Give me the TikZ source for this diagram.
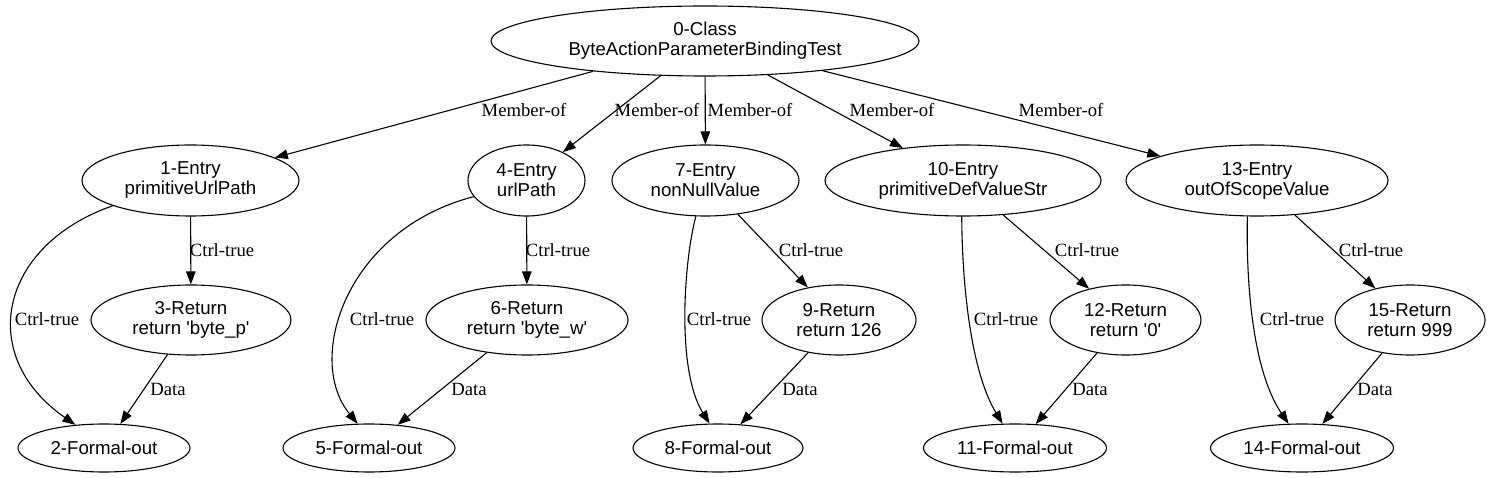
\documentclass[tikz,border=0pt]{standalone}
\usepackage{fontspec}
\usetikzlibrary{shapes.geometric,arrows.meta}
\newfontfamily\arialf{Liberation Sans}
\newfontfamily\timesf{Liberation Serif}
\newcommand\ndfont{\arialf\fontsize{18.67}{20}\selectfont}
\newcommand\lbfont{\timesf\fontsize{18.67}{20}\selectfont}
\begin{document}
\begin{tikzpicture}[x=1pt,y=-1pt,
  nd/.style={draw, ellipse, line width=1.1pt, inner sep=0pt, font=\ndfont, align=center},
  ed/.style={line width=1.1pt, -{Triangle[length=13pt,width=9.5pt]}},
  lbl/.style={font=\lbfont, inner sep=0pt}]
\useasboundingbox[fill=white] (0,0) rectangle (1494,478);
% nodes
\node[nd, minimum width=428pt, minimum height=70pt] (n0) at (705,41) {0-Class\\ByteActionParameterBindingTest};
\node[nd, minimum width=217pt, minimum height=71pt] (n1) at (190.5,180.5) {1-Entry\\primitiveUrlPath};
\node[nd, minimum width=117pt, minimum height=71pt] (n4) at (526.5,180.5) {4-Entry\\urlPath};
\node[nd, minimum width=187pt, minimum height=71pt] (n7) at (705.5,180.5) {7-Entry\\nonNullValue};
\node[nd, minimum width=276pt, minimum height=71pt] (n10) at (963,180.5) {10-Entry\\primitiveDefValueStr};
\node[nd, minimum width=262pt, minimum height=71pt] (n13) at (1257,180.5) {13-Entry\\outOfScopeValue};
\node[nd, minimum width=200pt, minimum height=70pt] (n3) at (191,320) {3-Return\\return 'byte\_p'};
\node[nd, minimum width=202pt, minimum height=70pt] (n6) at (527,320) {6-Return\\return 'byte\_w'};
\node[nd, minimum width=154pt, minimum height=70pt] (n9) at (839,320) {9-Return\\return 126};
\node[nd, minimum width=151pt, minimum height=70pt] (n12) at (1125.5,320) {12-Return\\return '0'};
\node[nd, minimum width=150pt, minimum height=70pt] (n15) at (1410,320) {15-Return\\return 999};
\node[nd, minimum width=172pt, minimum height=48pt] (n2) at (104,448) {2-Formal-out};
\node[nd, minimum width=172pt, minimum height=48pt] (n5) at (369,448) {5-Formal-out};
\node[nd, minimum width=170pt, minimum height=48pt] (n8) at (718,448) {8-Formal-out};
\node[nd, minimum width=183pt, minimum height=48pt] (n11) at (1015,448) {11-Formal-out};
\node[nd, minimum width=183pt, minimum height=48pt] (n14) at (1302,448) {14-Formal-out};
% member-of edges
\draw[ed] (n0) -- (n1) node[lbl] at (524,110) {Member-of};
\draw[ed] (n0) -- (n4) node[lbl] at (657,110) {Member-of};
\draw[ed] (n0) -- (n7) node[lbl] at (750,110) {Member-of};
\draw[ed] (n0) -- (n10) node[lbl] at (892,110) {Member-of};
\draw[ed] (n0) -- (n13) node[lbl] at (1061,110) {Member-of};
% ctrl-true to returns
\draw[ed] (n1) -- (n3) node[lbl] at (222,250) {Ctrl-true};
\draw[ed] (n4) -- (n6) node[lbl] at (558,250) {Ctrl-true};
\draw[ed] (n7) -- (n9) node[lbl] at (811,250) {Ctrl-true};
\draw[ed] (n10) -- (n12) node[lbl] at (1087,250) {Ctrl-true};
\draw[ed] (n13) -- (n15) node[lbl] at (1371,250) {Ctrl-true};
% ctrl-true to formal-outs
\draw[ed] (n1.198.9) .. controls (0,245) and (-25,355) .. (n2.141.6) node[lbl] at (47,319) {Ctrl-true};
\draw[ed] (n4.197.8) .. controls (345,230) and (305,360) .. (n5.115.6) node[lbl] at (382,319) {Ctrl-true};
\draw[ed] (n7.255) .. controls (684,260) and (676,370) .. (n8.109) node[lbl] at (719,319) {Ctrl-true};
\draw[ed] (n10.268) .. controls (962,280) and (970,370) .. (n11.117.6) node[lbl] at (1006,319) {Ctrl-true};
\draw[ed] (n13.255.8) .. controls (1246,280) and (1252,370) .. (n14.119.5) node[lbl] at (1292,319) {Ctrl-true};
% data edges
\draw[ed] (n3) -- (n2) node[lbl] at (168,389) {Data};
\draw[ed] (n6) -- (n5) node[lbl] at (469,389) {Data};
\draw[ed] (n9) -- (n8) node[lbl] at (800,389) {Data};
\draw[ed] (n12) -- (n11) node[lbl] at (1090,389) {Data};
\draw[ed] (n15) -- (n14) node[lbl] at (1375,389) {Data};
\end{tikzpicture}
\end{document}
